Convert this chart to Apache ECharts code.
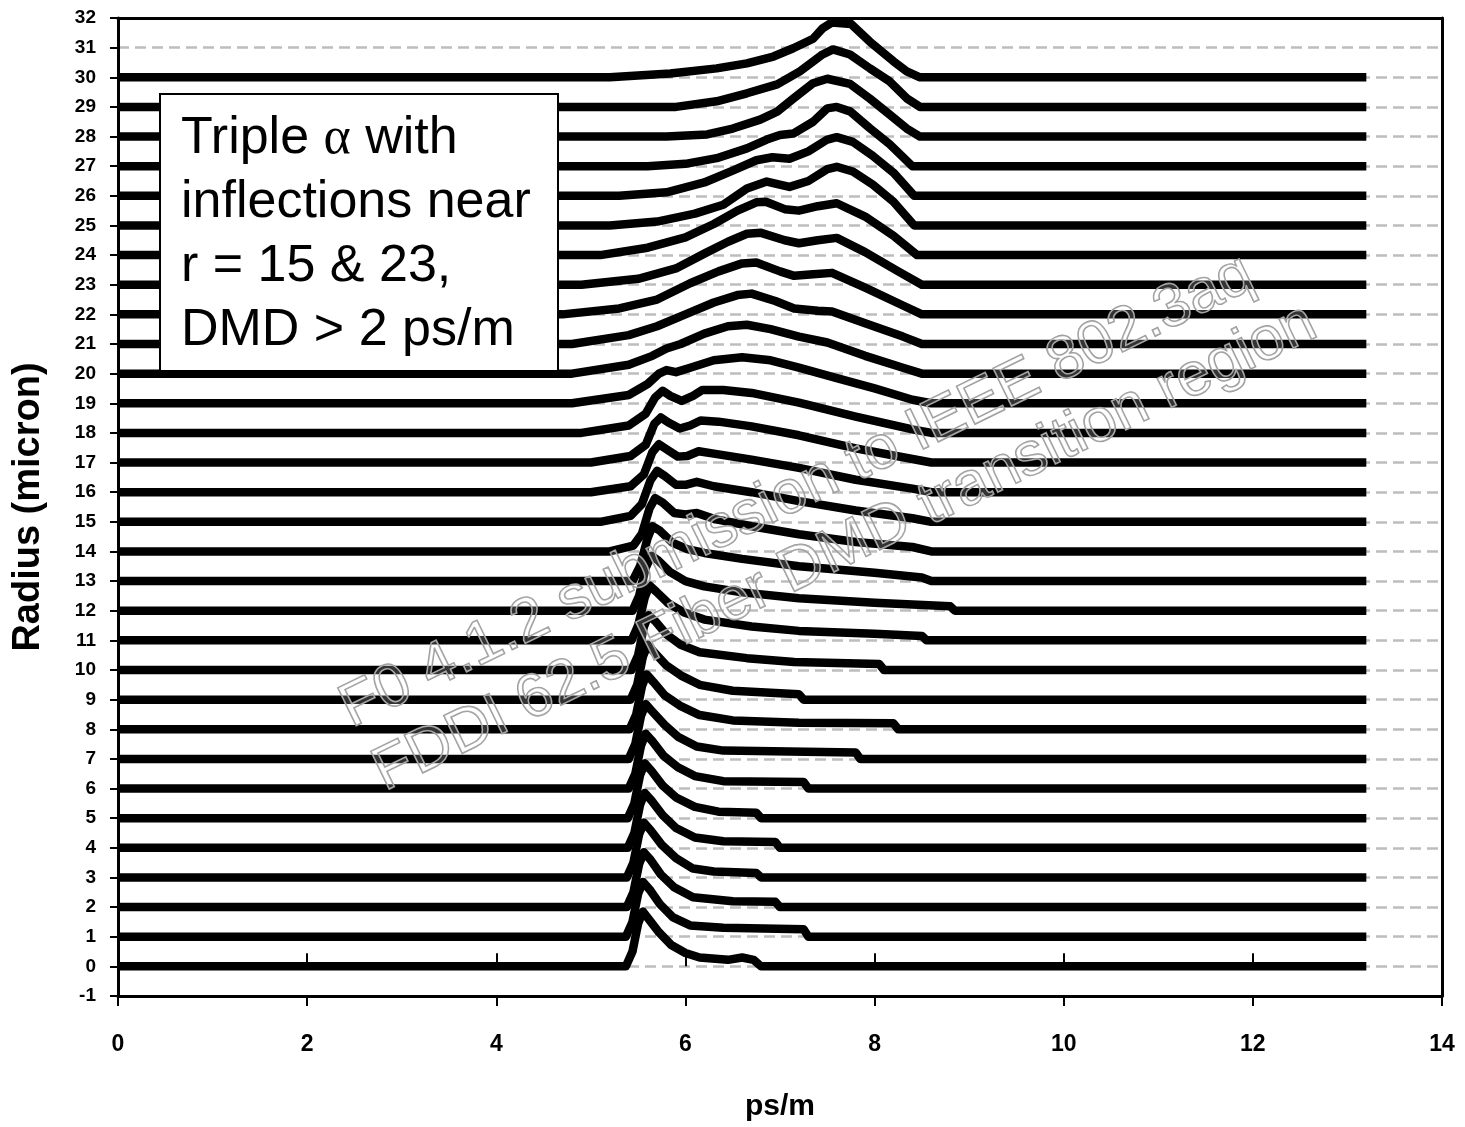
<!DOCTYPE html>
<html>
<head>
<meta charset="utf-8">
<script src="https://cdn.jsdelivr.net/npm/echarts@6/dist/echarts.min.js"></script>
<style>
  html, body { margin: 0; padding: 0; background: #fff; }
  #chart { width: 1465px; height: 1127px; }
</style>
</head>
<body>
<div id="chart"></div>
<script>
// radius of each launch offset (micron), one trace per radius
var radii = [];
for (var k = 0; k <= 30; k++) radii.push(k);

// pulse shape of each trace: [ps/m, height above its own radius]
var pulses = [
  [[0,0],[5.37,0],[5.44,0.5],[5.5,1.45],[5.55,1.85],[5.61,1.6],[5.72,1.15],[5.85,0.72],[6.0,0.45],[6.15,0.3],[6.45,0.22],[6.6,0.3],[6.72,0.22],[6.8,0],[13.2,0]],
  [[0,0],[5.37,0],[5.44,0.5],[5.5,1.45],[5.55,1.85],[5.62,1.6],[5.73,1.1],[5.87,0.65],[6.05,0.38],[6.4,0.3],[7.25,0.25],[7.3,0],[13.2,0]],
  [[0,0],[5.38,0],[5.45,0.5],[5.51,1.45],[5.56,1.85],[5.63,1.6],[5.74,1.1],[5.88,0.67],[6.08,0.33],[6.5,0.2],[6.95,0.18],[7.0,0],[13.2,0]],
  [[0,0],[5.38,0],[5.45,0.5],[5.51,1.45],[5.56,1.85],[5.63,1.6],[5.75,1.1],[5.9,0.65],[6.08,0.3],[6.3,0.2],[6.75,0.15],[6.8,0],[13.2,0]],
  [[0,0],[5.39,0],[5.46,0.5],[5.52,1.45],[5.57,1.85],[5.64,1.6],[5.76,1.1],[5.9,0.67],[6.1,0.35],[6.4,0.22],[6.95,0.2],[7.0,0],[13.2,0]],
  [[0,0],[5.39,0],[5.46,0.5],[5.52,1.45],[5.57,1.85],[5.64,1.6],[5.76,1.1],[5.9,0.7],[6.1,0.38],[6.35,0.22],[6.75,0.18],[6.8,0],[13.2,0]],
  [[0,0],[5.4,0],[5.47,0.5],[5.53,1.45],[5.58,1.85],[5.65,1.6],[5.77,1.1],[5.92,0.72],[6.1,0.42],[6.4,0.25],[7.25,0.22],[7.3,0],[13.2,0]],
  [[0,0],[5.4,0],[5.47,0.5],[5.53,1.45],[5.58,1.85],[5.65,1.6],[5.78,1.15],[5.92,0.75],[6.12,0.42],[6.4,0.28],[7.8,0.22],[7.85,0],[13.2,0]],
  [[0,0],[5.41,0],[5.48,0.5],[5.54,1.45],[5.59,1.85],[5.66,1.6],[5.78,1.15],[5.94,0.8],[6.15,0.48],[6.5,0.3],[7.2,0.22],[8.2,0.2],[8.25,0],[13.2,0]],
  [[0,0],[5.42,0],[5.49,0.5],[5.55,1.45],[5.6,1.85],[5.67,1.6],[5.8,1.15],[5.95,0.82],[6.15,0.5],[6.5,0.3],[7.2,0.18],[7.25,0],[13.2,0]],
  [[0,0],[5.43,0],[5.5,0.5],[5.56,1.45],[5.61,1.85],[5.68,1.65],[5.8,1.2],[5.95,0.85],[6.15,0.6],[6.65,0.4],[7.15,0.27],[8.05,0.2],[8.1,0],[13.2,0]],
  [[0,0],[5.43,0],[5.5,0.5],[5.57,1.45],[5.62,1.85],[5.69,1.65],[5.82,1.25],[5.98,0.95],[6.2,0.7],[6.7,0.47],[7.2,0.32],[8.0,0.22],[8.5,0.15],[8.55,0],[13.2,0]],
  [[0,0],[5.44,0],[5.51,0.5],[5.58,1.45],[5.64,1.85],[5.71,1.7],[5.84,1.3],[6.0,1.0],[6.2,0.82],[6.6,0.62],[7.2,0.42],[8.0,0.27],[8.8,0.15],[8.85,0],[13.2,0]],
  [[0,0],[5.44,0],[5.52,0.5],[5.6,1.45],[5.65,1.85],[5.73,1.7],[5.86,1.3],[6.02,1.08],[6.2,0.95],[6.6,0.75],[7.2,0.5],[8.0,0.28],[8.5,0.12],[8.6,0],[13.2,0]],
  [[0,0],[5.2,0],[5.45,0.2],[5.54,0.6],[5.62,1.45],[5.68,1.8],[5.76,1.65],[5.88,1.3],[6.0,1.25],[6.12,1.3],[6.3,1.1],[6.7,0.85],[7.2,0.58],[7.8,0.32],[8.4,0.15],[8.6,0],[13.2,0]],
  [[0,0],[5.1,0],[5.42,0.2],[5.54,0.6],[5.63,1.4],[5.7,1.72],[5.78,1.55],[5.9,1.25],[6.0,1.25],[6.12,1.35],[6.3,1.2],[6.7,1.0],[7.2,0.7],[7.8,0.38],[8.4,0.12],[8.6,0],[13.2,0]],
  [[0,0],[5.0,0],[5.42,0.2],[5.56,0.6],[5.65,1.35],[5.72,1.62],[5.8,1.45],[5.92,1.2],[6.02,1.22],[6.14,1.38],[6.3,1.3],[6.7,1.1],[7.2,0.82],[7.8,0.42],[8.4,0.12],[8.6,0],[13.2,0]],
  [[0,0],[5.0,0],[5.42,0.22],[5.58,0.6],[5.67,1.3],[5.74,1.52],[5.82,1.35],[5.94,1.15],[6.05,1.25],[6.16,1.42],[6.35,1.38],[6.7,1.22],[7.2,0.92],[7.8,0.48],[8.4,0.12],[8.6,0],[13.2,0]],
  [[0,0],[4.9,0],[5.4,0.25],[5.58,0.65],[5.68,1.2],[5.76,1.42],[5.84,1.25],[5.96,1.08],[6.08,1.25],[6.18,1.45],[6.4,1.45],[6.7,1.35],[7.2,1.02],[7.8,0.55],[8.4,0.12],[8.6,0],[13.2,0]],
  [[0,0],[4.8,0],[5.4,0.28],[5.6,0.65],[5.72,1.0],[5.8,1.12],[5.9,1.05],[6.05,1.2],[6.3,1.45],[6.6,1.55],[6.9,1.45],[7.2,1.2],[7.6,0.85],[8.0,0.5],[8.4,0.12],[8.6,0],[13.2,0]],
  [[0,0],[4.8,0],[5.4,0.3],[5.65,0.6],[5.8,0.85],[5.95,1.0],[6.2,1.35],[6.45,1.6],[6.65,1.65],[6.9,1.5],[7.2,1.25],[7.5,1.05],[7.9,0.6],[8.3,0.2],[8.5,0],[13.2,0]],
  [[0,0],[4.8,0],[5.4,0.3],[5.7,0.6],[6.0,1.0],[6.3,1.4],[6.55,1.65],[6.7,1.7],[6.95,1.45],[7.15,1.2],[7.4,1.12],[7.55,1.1],[7.9,0.7],[8.3,0.25],[8.5,0],[13.2,0]],
  [[0,0],[4.7,0],[5.3,0.2],[5.7,0.5],[6.05,1.05],[6.35,1.45],[6.6,1.72],[6.75,1.75],[7.0,1.45],[7.15,1.3],[7.35,1.35],[7.55,1.4],[7.9,0.9],[8.3,0.3],[8.5,0],[13.2,0]],
  [[0,0],[4.9,0],[5.5,0.2],[5.9,0.55],[6.2,1.05],[6.45,1.45],[6.65,1.72],[6.8,1.75],[7.05,1.5],[7.2,1.4],[7.4,1.5],[7.6,1.58],[7.9,1.1],[8.25,0.45],[8.5,0],[13.2,0]],
  [[0,0],[5.1,0],[5.6,0.25],[6.0,0.6],[6.3,1.05],[6.55,1.5],[6.75,1.78],[6.85,1.8],[7.05,1.55],[7.2,1.5],[7.4,1.65],[7.6,1.75],[7.9,1.3],[8.2,0.65],[8.45,0],[13.2,0]],
  [[0,0],[5.2,0],[5.7,0.13],[6.1,0.4],[6.4,0.7],[6.65,1.25],[6.86,1.48],[7.1,1.3],[7.3,1.5],[7.5,1.9],[7.6,1.98],[7.77,1.82],[7.98,1.38],[8.2,0.8],[8.42,0],[13.2,0]],
  [[0,0],[5.3,0],[5.8,0.12],[6.2,0.45],[6.5,0.85],[6.75,1.2],[6.92,1.3],[7.1,1.25],[7.3,1.5],[7.5,1.9],[7.6,1.98],[7.77,1.82],[7.98,1.35],[8.2,0.78],[8.42,0],[13.2,0]],
  [[0,0],[5.6,0],[6.0,0.08],[6.33,0.27],[6.65,0.6],[6.86,0.9],[7.0,1.05],[7.14,1.1],[7.35,1.5],[7.5,1.95],[7.6,2.0],[7.74,1.85],[7.95,1.28],[8.16,0.74],[8.4,0],[13.2,0]],
  [[0,0],[5.8,0],[6.23,0.07],[6.5,0.27],[6.79,0.57],[6.97,0.84],[7.14,1.28],[7.35,1.8],[7.5,1.95],[7.74,1.78],[7.95,1.28],[8.16,0.74],[8.34,0.27],[8.48,0],[13.2,0]],
  [[0,0],[5.9,0],[6.33,0.19],[6.65,0.46],[6.97,0.76],[7.21,1.2],[7.45,1.77],[7.56,1.94],[7.74,1.77],[7.95,1.3],[8.16,0.86],[8.34,0.29],[8.48,0],[13.2,0]],
  [[0,0],[5.2,0],[5.84,0.13],[6.33,0.3],[6.65,0.47],[6.93,0.7],[7.14,0.98],[7.35,1.3],[7.45,1.65],[7.55,1.85],[7.75,1.8],[7.95,1.2],[8.2,0.54],[8.34,0.2],[8.48,0],[13.2,0]]
];

var noteLines = ['Triple {a|α} with', 'inflections near', 'r = 15 & 23,', 'DMD > 2 ps/m'];
var stampLines = ['F0 4.1.2 submission to IEEE 802.3aq', 'FDDI 62.5 Fiber DMD transition region'];

var dom = document.getElementById('chart');
var myChart = echarts.init(dom);

var series = radii.map(function (r, i) {
    return {
        name: 'r' + r,
        type: 'line',
        showSymbol: false,
        silent: true,
        z: 3,
        lineStyle: { color: '#000', width: 8.5, join: 'round', cap: 'butt' },
        data: pulses[i].map(function (p) { return [p[0], r + p[1]]; })
    };
});

var rot = 26 * Math.PI / 180;
var labelFont = { fontFamily: 'Liberation Sans', fontWeight: 'bold', color: '#000' };

var option = {
    backgroundColor: '#fff',
    animation: false,
    grid: { left: 118, right: 23, top: 18, bottom: 131 },
    xAxis: [{
        type: 'value', min: 0, max: 14, interval: 2,
        position: 'bottom',
        name: 'ps/m', nameLocation: 'middle', nameGap: 96,
        nameTextStyle: Object.assign({ fontSize: 30 }, labelFont),
        axisLine: { onZero: false, lineStyle: { color: '#000', width: 3 } },
        axisTick: { show: true, length: 10, lineStyle: { color: '#000', width: 2 } },
        axisLabel: Object.assign({ margin: 37, fontSize: 23 }, labelFont),
        splitLine: { show: false }
    }, {
        type: 'value', min: 0, max: 14, interval: 2,
        position: 'bottom',
        axisLine: { show: false },
        axisTick: { show: true, inside: true, length: 13, lineStyle: { color: '#000', width: 2 } },
        axisLabel: { show: false },
        splitLine: { show: false }
    }, {
        type: 'value', min: 0, max: 14, interval: 2,
        position: 'top',
        axisLine: { show: true, onZero: false, lineStyle: { color: '#000', width: 3 } },
        axisTick: { show: false },
        axisLabel: { show: false },
        splitLine: { show: false }
    }],
    yAxis: [{
        type: 'value', min: -1, max: 32, interval: 1,
        position: 'left',
        name: 'Radius (micron)', nameLocation: 'middle', nameGap: 70,
        nameTextStyle: Object.assign({ fontSize: 38 }, labelFont),
        axisLine: { onZero: false, lineStyle: { color: '#000', width: 3 } },
        axisTick: { show: true, length: 8, lineStyle: { color: '#000', width: 2 } },
        axisLabel: Object.assign({ margin: 22, fontSize: 19 }, labelFont),
        splitLine: { show: true, lineStyle: { color: '#bdbdbd', width: 2.5, type: [11, 6] } }
    }, {
        type: 'value', min: -1, max: 32, interval: 1,
        position: 'right',
        axisLine: { show: true, onZero: false, lineStyle: { color: '#000', width: 3 } },
        axisTick: { show: false },
        axisLabel: { show: false },
        splitLine: { show: false }
    }],
    graphic: [
        { type: 'rect', z: 50, shape: { x: 160, y: 94, width: 398, height: 277 },
          style: { fill: '#fff', stroke: '#000', lineWidth: 2 } }
    ].concat(noteLines.map(function (t, i) {
        return {
            type: 'text', z: 51, x: 181, y: 139 + i * 64,
            style: {
                text: t, fill: '#000', fontFamily: 'Liberation Sans', fontSize: 52,
                align: 'left', verticalAlign: 'middle',
                rich: { a: { fontFamily: 'Liberation Serif', fontSize: 52, fill: '#000' } }
            }
        };
    })).concat([
        {
            type: 'text', z: 20, x: 797, y: 492, rotation: rot,
            style: { text: stampLines[0], fontFamily: 'Liberation Sans', fontSize: 61,
                     align: 'center', verticalAlign: 'middle',
                     fill: 'rgba(255,255,255,0.2)', stroke: '#9a9a9a', lineWidth: 1.6 }
        },
        {
            type: 'text', z: 20, x: 845, y: 548, rotation: rot,
            style: { text: stampLines[1], fontFamily: 'Liberation Sans', fontSize: 61,
                     align: 'center', verticalAlign: 'middle',
                     fill: 'rgba(255,255,255,0.2)', stroke: '#9a9a9a', lineWidth: 1.6 }
        }
    ]),
    series: series
};
if (option && typeof option === "object") {
    myChart.setOption(option, true);
}
</script>
</body>
</html>
